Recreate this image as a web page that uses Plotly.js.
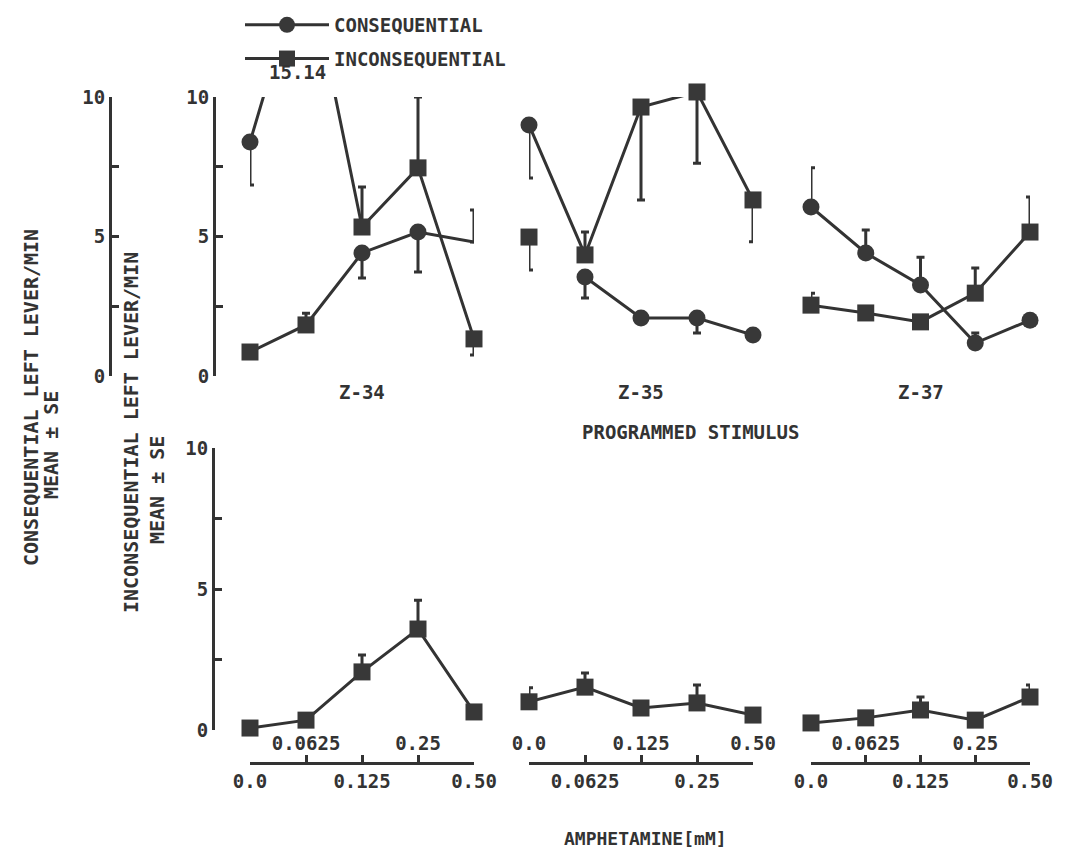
<!DOCTYPE html>
<html>
<head>
<meta charset="utf-8">
<script src="https://cdn.plot.ly/plotly-3.0.1.min.js"></script>
<style>html,body{margin:0;padding:0;background:#fff;}#chart{width:1072px;height:853px;}</style>
</head>
<body>
<div id="chart"></div>
<script>
// ---------------- DATA ----------------
const doses = ['0.0', '0.0625', '0.125', '0.25', '0.50'];
const groups = ['Z-34', 'Z-35', 'Z-37'];
const seriesNames = ['CONSEQUENTIAL', 'INCONSEQUENTIAL'];

// Top panel (programmed stimulus), one-sided SE bars
const conseqZ34 = [8.39, 15.14, 5.34, 7.46, 1.33];
const conseqZ34Up = [0, 0, 1.43, 2.54, 0];
const conseqZ34Down = [1.54, 0, 0, 0, 0.58];
const inconseqZ34 = [0.86, 1.83, 4.41, 5.16, 4.8];
const inconseqZ34Up = [0, 0.42, 0, 0, 1.15];
const inconseqZ34Down = [0, 0, 0.9, 1.43, 0];

const conseqZ35 = [9.0, 4.34, 9.64, 10.18, 6.31];
const conseqZ35Up = [0, 0.82, 0, 0, 0];
const conseqZ35Down = [1.9, 0, 3.33, 2.55, 1.5];
const inconseqZ35 = [4.98, 3.55, 2.08, 2.08, 1.47];
const inconseqZ35Up = [0, 0, 0, 0, 0];
const inconseqZ35Down = [1.18, 0.75, 0, 0.54, 0];

const conseqZ37 = [6.06, 4.41, 3.26, 1.18, 2.0];
const conseqZ37Up = [1.4, 0.82, 1.0, 0.36, 0];
const conseqZ37Down = [0, 0, 0, 0, 0];
const inconseqZ37 = [2.54, 2.26, 1.94, 2.97, 5.16];
const inconseqZ37Up = [0.43, 0, 0, 0.9, 1.26];
const inconseqZ37Down = [0, 0, 0, 0, 0];

// Bottom panel (amphetamine), squares only
const amphZ34 = [0.07, 0.35, 2.06, 3.58, 0.64];
const amphZ34Up = [0, 0, 0.6, 1.02, 0];
const amphZ35 = [1.0, 1.52, 0.78, 0.96, 0.53];
const amphZ35Up = [0.5, 0.5, 0, 0.64, 0];
const amphZ37 = [0.25, 0.43, 0.71, 0.35, 1.17];
const amphZ37Up = [0, 0, 0.46, 0, 0.43];

// which points are joined by the line (false = isolated point)
const linkInconseqZ35 = [false, true, true, true, true];

// ---------------- STYLE ----------------
const INK = '#333333';
const MARK = '#383838';
const NONE = 'rgba(0,0,0,0)';
const FONT = 'DejaVu Sans Mono';
const W = 1072, H = 853;
const px = p => p / W;
const py = p => 1 - p / H;
const YMAX = 10;            // axis top; higher values are cut
const YOVER = 10.35;        // range of the helper axis that shows points just above the top

const symConseq = [
  ['circle', 'circle', 'square', 'square', 'square'],
  ['circle', 'square', 'square', 'square', 'square'],
  ['circle', 'circle', 'circle', 'circle', 'circle']
];
const symInconseq = [
  ['square', 'square', 'circle', 'circle', 'circle'],
  ['square', 'circle', 'circle', 'circle', 'circle'],
  ['square', 'square', 'square', 'square', 'square']
];
// marker drawn (1) or not (0, e.g. off-scale value / end of line without symbol)
const showConseq = [[1, 0, 1, 1, 1], [1, 1, 1, 1, 1], [1, 1, 1, 1, 1]];
const showInconseq = [[1, 1, 1, 1, 0], [1, 1, 1, 1, 1], [1, 1, 1, 1, 1]];

const groupDomainsPx = [[250, 474], [529, 753], [811, 1030]];
const topZeroPx = 376, topTenPx = 97;
const topDomain = [py(topZeroPx), py(topTenPx)];
const overDomain = [py(topZeroPx), py(topZeroPx - (topZeroPx - topTenPx) * YOVER / YMAX)];
const botDomain = [py(730), py(448)];
const xAxisY = py(763);

const topData = [
  [conseqZ34, conseqZ34Up, conseqZ34Down, inconseqZ34, inconseqZ34Up, inconseqZ34Down, null],
  [conseqZ35, conseqZ35Up, conseqZ35Down, inconseqZ35, inconseqZ35Up, inconseqZ35Down, linkInconseqZ35],
  [conseqZ37, conseqZ37Up, conseqZ37Down, inconseqZ37, inconseqZ37Up, inconseqZ37Down, null]
];
const botData = [[amphZ34, amphZ34Up], [amphZ35, amphZ35Up], [amphZ37, amphZ37Up]];

const idx = doses.map((d, i) => i);
const traces = [];
const errStyle = {type: 'data', symmetric: false, color: INK, thickness: 3, width: 4};

function addSeries(name, xa, ya, yOver, vals, up, down, syms, shown, link, showLegend) {
  const joined = link || vals.map(() => true);
  // points drawn by the main trace: joined and not above the axis top
  const inMain = vals.map((v, i) => joined[i] && v <= YMAX);
  traces.push({
    type: 'scatter', mode: 'lines+markers', name: name, legendgroup: name,
    showlegend: showLegend, xaxis: xa, yaxis: ya,
    x: idx, y: vals.map((v, i) => (joined[i] ? v : null)), connectgaps: false, cliponaxis: false,
    line: {color: INK, width: 3},
    marker: {symbol: syms, size: 17, opacity: 1,
             color: shown.map((s, i) => (s && inMain[i] ? MARK : NONE)), line: {width: 0}},
    error_y: Object.assign({}, errStyle, {
      array: up.map((e, i) => (inMain[i] ? e : 0)),
      arrayminus: down.map((e, i) => (inMain[i] ? e : 0))}),
    hoverinfo: 'x+y'
  });
  // remaining visible points: isolated ones and those just above the axis top
  const extra = vals.map((v, i) => !inMain[i] && shown[i] > 0);
  if (extra.some(Boolean)) {
    const onOver = extra.some((e, i) => e && vals[i] > YMAX);
    traces.push({
      type: 'scatter', mode: 'markers', name: name, legendgroup: name, showlegend: false,
      xaxis: xa, yaxis: onOver ? yOver : ya,
      x: idx, y: vals.map((v, i) => (extra[i] ? v : null)), cliponaxis: false,
      marker: {symbol: syms, size: 17, color: MARK, opacity: 1, line: {width: 0}},
      error_y: Object.assign({}, errStyle, {
        array: up.map((e, i) => (extra[i] ? e : 0)),
        arrayminus: down.map((e, i) => (extra[i] ? e : 0))}),
      hoverinfo: 'x+y'
    });
  }
}

groups.forEach((g, gi) => {
  const xa = gi === 0 ? 'x' : 'x' + (gi + 1);
  const d = topData[gi];
  addSeries(seriesNames[0], xa, 'y', 'y4', d[0], d[1], d[2], symConseq[gi], showConseq[gi], null, gi === 0);
  addSeries(seriesNames[1], xa, 'y', 'y4', d[3], d[4], d[5], symInconseq[gi], showInconseq[gi], d[6], gi === 0);
});
groups.forEach((g, gi) => {
  const xa = gi === 0 ? 'x' : 'x' + (gi + 1);
  const b = botData[gi];
  addSeries(seriesNames[1], xa, 'y3', 'y3', b[0], b[1], b[0].map(() => 0),
            b[0].map(() => 'square'), b[0].map(() => 1), null, false);
});

// empty helper traces so that the second y axis and the overlay x axes are drawn
const blank = (xa, ya) => ({type: 'scatter', mode: 'markers', x: [], y: [], xaxis: xa, yaxis: ya,
                            showlegend: false, hoverinfo: 'skip'});
traces.push(blank('x', 'y2'));
traces.push(blank('x4', 'y3'));
traces.push(blank('x5', 'y3'));
traces.push(blank('x6', 'y3'));

// ---------------- LAYOUT ----------------
const tickFont = {family: FONT, size: 19, color: INK, weight: 'bold'};
function yAxis(domain, posPx) {
  return {
    domain: domain, range: [0, YMAX], anchor: 'free', position: px(posPx), side: 'left',
    showline: true, linewidth: 3, linecolor: INK, mirror: false,
    ticks: 'inside', ticklen: 7, tickwidth: 3, tickcolor: INK,
    tickvals: [0, 2.5, 5, 7.5, 10], ticktext: ['0', '', '5', '', '10'],
    showgrid: false, zeroline: false, tickfont: tickFont, fixedrange: true
  };
}
const layout = {
  width: W, height: H,
  margin: {l: 0, r: 0, t: 0, b: 0},
  paper_bgcolor: '#ffffff', plot_bgcolor: 'rgba(0,0,0,0)',
  font: {family: FONT, size: 19, color: INK, weight: 'bold'},
  showlegend: true,
  legend: {x: px(240), y: py(6), xanchor: 'left', yanchor: 'top', orientation: 'v',
           font: {family: FONT, size: 19, color: INK, weight: 'bold'},
           itemwidth: 84, traceorder: 'grouped', tracegroupgap: 6, bgcolor: 'rgba(0,0,0,0)'},
  yaxis: yAxis(topDomain, 110),
  yaxis2: yAxis(topDomain, 214),
  yaxis3: yAxis(botDomain, 213),
  yaxis4: {domain: overDomain, range: [0, YOVER], anchor: 'free', position: px(214),
           visible: false, fixedrange: true},
  annotations: [],
  hovermode: 'closest'
};

groups.forEach((g, gi) => {
  const n = gi + 1;
  const key = n === 1 ? 'xaxis' : 'xaxis' + n;
  const dom = [px(groupDomainsPx[gi][0]), px(groupDomainsPx[gi][1])];
  const bottomRow = doses.map((d, i) => ((gi + i) % 2 === 0 ? d : ''));
  const topRow = doses.map((d, i) => ((gi + i) % 2 === 1 ? d : ''));
  layout[key] = {
    domain: dom, range: [0, 4], anchor: 'free', position: xAxisY,
    showline: true, linewidth: 3, linecolor: INK,
    ticks: 'inside', ticklen: 7, tickwidth: 3, tickcolor: INK,
    tickvals: idx, ticktext: bottomRow, tickfont: tickFont,
    showgrid: false, zeroline: false, fixedrange: true
  };
  layout['xaxis' + (n + 3)] = {
    domain: dom, overlaying: n === 1 ? 'x' : 'x' + n, range: [0, 4], anchor: 'free', position: xAxisY,
    showline: false, ticks: '', ticklabelposition: 'inside', ticklabeloverflow: 'allow',
    ticklabelstandoff: 6,
    tickvals: idx, ticktext: topRow, tickfont: tickFont,
    showgrid: false, zeroline: false, fixedrange: true
  };
  layout.annotations.push({
    text: g, xref: n === 1 ? 'x' : 'x' + n, yref: 'paper', x: 2, y: py(392), yanchor: 'middle',
    showarrow: false, font: {family: FONT, size: 19, color: INK, weight: 'bold'}
  });
});

const ann = (text, xPx, yPx, angle, size) => ({
  text: text, xref: 'paper', yref: 'paper', x: px(xPx), y: py(yPx), textangle: angle || 0,
  showarrow: false, xanchor: 'center', yanchor: 'middle',
  font: {family: FONT, size: size || 19, color: INK, weight: 'bold'}
});
layout.annotations.push(
  {text: String(conseqZ34[1]), xref: 'x', yref: 'paper', x: 0.85, y: py(72), yanchor: 'middle',
   showarrow: false, font: {family: FONT, size: 19, color: INK, weight: 'bold'}},
  ann('PROGRAMMED STIMULUS', 690, 432),
  ann('AMPHETAMINE[mM]', 645, 838, 0, 18),
  ann('CONSEQUENTIAL LEFT LEVER/MIN', 31, 398, -90, 20),
  ann('MEAN ± SE', 51, 445, -90, 20),
  ann('INCONSEQUENTIAL LEFT LEVER/MIN', 131, 433, -90, 20),
  ann('MEAN ± SE', 157, 490, -90, 20)
);

Plotly.newPlot('chart', traces, layout, {displayModeBar: false});
</script>
</body>
</html>
